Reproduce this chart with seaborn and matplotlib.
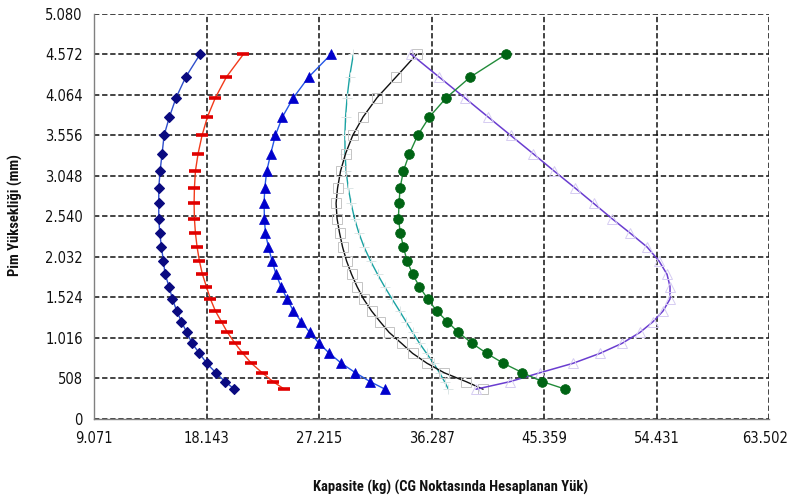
import os
import matplotlib
matplotlib.use('Agg')
import matplotlib.pyplot as plt
import seaborn as sns
import pandas as pd
from matplotlib import font_manager
from matplotlib.font_manager import FontProperties

# ---------------- data ----------------
heights = [4572, 4286, 4027, 3785, 3555, 3325, 3107, 2894, 2702, 2509, 2329, 2154, 1978,
           1811, 1656, 1502, 1351, 1217, 1083, 945, 820, 695, 577, 465, 370]

navy_diamond = [17622, 16467, 15688, 15150, 14721, 14559, 14398, 14291, 14291, 14291, 14371,
                14506, 14667, 14801, 15124, 15392, 15742, 16118, 16548, 16977, 17568, 18159,
                18885, 19637, 20389]
red_dash = [21114, 19744, 18857, 18213, 17783, 17461, 17246, 17165, 17138, 17165, 17246,
            17380, 17568, 17810, 18132, 18454, 18857, 19341, 19825, 20443, 21061, 21759,
            22619, 23505, 24418]
blue_triangle = [28180, 26380, 25144, 24257, 23693, 23318, 22995, 22834, 22780, 22807, 22887,
                 23129, 23425, 23747, 24150, 24634, 25144, 25762, 26461, 27212, 28045, 29012,
                 30140, 31323, 32532]
teal_plus = [29977, 29671, 29469, 29348, 29292, 29308, 29389, 29566, 29792, 30074, 30420,
             30839, 31363, 31928, 32491, 33096, 33700, 34224, 34748, 35312, 35876, 36441,
             36924, 37327, 37633]
black_square = [35086, 33418, 31887, 30759, 29929, 29348, 28945, 28704, 28583, 28663, 28865,
                29106, 29429, 29832, 30275, 30799, 31444, 32129, 32854, 33861, 34748, 35917,
                37287, 39060, 40430]
green_circle = [42284, 39408, 37475, 36104, 35165, 34492, 34009, 33741, 33660, 33606, 33767,
                34009, 34305, 34762, 35298, 35971, 36696, 37555, 38442, 39543, 40726, 42068,
                43600, 45211, 47065]
purple_triangle = [34627, 36884, 38939, 40833, 42646, 44460, 46152, 47844, 49335, 50826, 52277,
                   53647, 54614, 55259, 55501, 55501, 54937, 54131, 53083, 51633, 49859, 47683,
                   45024, 42606, 39866]

x_ticks = [9071, 18143, 27215, 36287, 45359, 54431, 63502]
x_tick_labels = ['9.071', '18.143', '27.215', '36.287', '45.359', '54.431', '63.502']
y_ticks = [0, 508, 1016, 1524, 2032, 2540, 3048, 3556, 4064, 4572, 5080]
y_tick_labels = ['0', '508', '1.016', '1.524', '2.032', '2.540', '3.048', '3.556', '4.064',
                 '4.572', '5.080']

x_label = 'Kapasite (kg) (CG Noktasında Hesaplanan Yük)'
y_label = 'Pim Yüksekliği (mm)'

series_names = ['teal', 'black', 'purple', 'navy', 'red', 'blue', 'green']
series_values = [teal_plus, black_square, purple_triangle, navy_diamond, red_dash,
                 blue_triangle, green_circle]

rows = []
for name, vals in zip(series_names, series_values):
    for v, h in zip(vals, heights):
        rows.append({'series': name, 'kg': v, 'mm': h})
df = pd.DataFrame(rows)

# ---------------- fonts: look for a narrow / condensed face ----------------
sns.set_style('white')
plt.rcParams['font.family'] = ['Liberation Sans', 'DejaVu Sans']

all_fonts = font_manager.findSystemFonts()


def find_font(candidates):
    for cand in candidates:
        for path in all_fonts:
            if os.path.basename(path).lower() == cand.lower():
                return path
    return None


reg_path = find_font(['LiberationSansNarrow-Regular.ttf', 'DejaVuSansCondensed.ttf',
                      'RobotoCondensed-Regular.ttf', 'OpenSans_Condensed-Regular.ttf',
                      'OpenSans-CondensedRegular.ttf'])
bold_path = find_font(['LiberationSansNarrow-Bold.ttf', 'RobotoCondensed-Bold.ttf',
                       'OpenSans_Condensed-Bold.ttf', 'OpenSans-CondensedBold.ttf',
                       'DejaVuSansCondensed-Bold.ttf'])

if reg_path:
    tick_fp = FontProperties(fname=reg_path, size=10.5)
else:
    tick_fp = FontProperties(family=['Liberation Sans', 'DejaVu Sans'], size=9.5)
if bold_path:
    label_fp = FontProperties(fname=bold_path, size=10.5)
else:
    label_fp = FontProperties(family=['Liberation Sans', 'DejaVu Sans'], weight='bold', size=9)

styles = {
    'teal':   dict(color='#1AA3A3', lw=1.0, marker='+', markersize=7, markeredgewidth=0.7,
                   markeredgecolor='#DCE6E6', markerfacecolor='none'),
    'black':  dict(color='#111111', lw=1.0, marker='s', markersize=6.5, markeredgewidth=0.7,
                   markeredgecolor='#C4C4C4', markerfacecolor='none'),
    'purple': dict(color='#6A3DD0', lw=1.1, marker='^', markersize=7, markeredgewidth=0.7,
                   markeredgecolor='#D6CCF2', markerfacecolor='none'),
    'navy':   dict(color='#2F4FCC', lw=1.0, marker='D', markersize=5.5, markeredgewidth=0.8,
                   markeredgecolor='#0A0A80', markerfacecolor='#0A0A80'),
    'red':    dict(color='#F23A1A', lw=1.0, marker='_', markersize=8.8, markeredgewidth=2.6,
                   markeredgecolor='#E00000', markerfacecolor='#E00000'),
    'blue':   dict(color='#2456E6', lw=1.0, marker='^', markersize=7.5, markeredgewidth=0.5,
                   markeredgecolor='#0000CC', markerfacecolor='#0000CC'),
    'green':  dict(color='#228B3A', lw=1.0, marker='o', markersize=7, markeredgewidth=0.5,
                   markeredgecolor='#006414', markerfacecolor='#006414'),
}

fig = plt.figure(figsize=(7.87, 5.0), dpi=100)
ax = fig.add_axes([94 / 787, 1 - 418.7 / 500, (769.3 - 94) / 787, (418.7 - 13.7) / 500])

for name in series_names:
    sub = df[df['series'] == name]
    sns.lineplot(data=sub, x='kg', y='mm', sort=False, estimator=None, ax=ax,
                 legend=False, **styles[name])

ax.set_xlim(x_ticks[0], x_ticks[-1])
ax.set_ylim(y_ticks[0], y_ticks[-1])
ax.set_xticks(x_ticks)
# last x label is drawn separately, nudged so it stays inside the picture
ax.set_xticklabels(x_tick_labels[:-1] + [''], fontproperties=tick_fp, color='#111111')
ax.set_yticks(y_ticks)
ax.set_yticklabels(y_tick_labels, fontproperties=tick_fp, color='#111111')

ax.tick_params(axis='both', direction='inout', length=6, width=0.8, color='#808080')
ax.tick_params(axis='x', pad=5.5)
ax.tick_params(axis='y', pad=5)

ax.annotate(x_tick_labels[-1], xy=(x_ticks[-1], y_ticks[0]), xycoords='data',
            xytext=(-3, -8.5), textcoords='offset points', ha='center', va='top',
            fontproperties=tick_fp, color='#111111', annotation_clip=False)

ax.grid(True, color='#111111', linestyle=(0, (3.5, 1.8)), linewidth=1.1)
ax.set_axisbelow(True)

for side in ['top', 'right']:
    ax.spines[side].set_visible(False)
for side in ['left', 'bottom']:
    ax.spines[side].set_color('#808080')
    ax.spines[side].set_linewidth(1.0)

ax.set_xlabel('')
ax.set_ylabel('')
fig.text(451 / 787, 1 - 487 / 500, x_label, ha='center', va='center',
         fontproperties=label_fp, color='#111111')
fig.text(15.5 / 787, 1 - 215 / 500, y_label, ha='center', va='center', rotation=90,
         fontproperties=label_fp, color='#111111')

fig.savefig('out.png', dpi=100)
